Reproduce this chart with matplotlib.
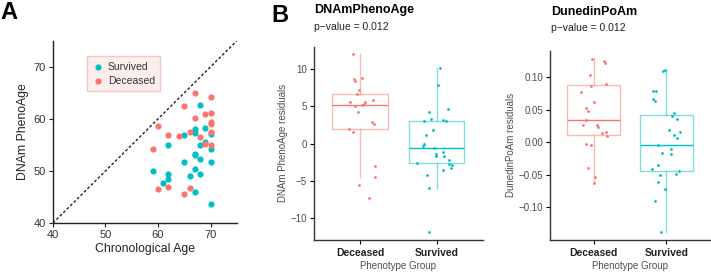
import matplotlib.pyplot as plt

plt.rcParams['font.family'] = ['Liberation Sans', 'DejaVu Sans']

RED = '#F8766D'
TEAL = '#00BFC4'

# Panel A: chronological age vs DNAm PhenoAge
surv_age = [59, 61, 62, 62, 62, 65, 65, 67, 67, 67, 67, 67, 67, 66, 68, 68, 68, 68, 69, 69, 70, 70, 70, 70]
surv_pheno = [49.9, 47.6, 49.5, 48.5, 55.0, 56.9, 51.7, 58.1, 57.3, 53.3, 53.0, 50.3, 45.9, 49.0,
              62.6, 55.0, 52.3, 49.5, 58.3, 55.5, 57.1, 54.3, 51.8, 43.7]
dec_age = [59, 60, 60, 62, 62, 64, 65, 65, 66, 66, 67, 67, 68, 69, 69, 70, 70, 70, 70, 70, 70]
dec_pheno = [54.3, 58.7, 46.5, 57.0, 47.0, 56.8, 62.4, 45.6, 57.5, 46.8, 65.0, 60.2, 56.5, 60.9,
             55.2, 64.3, 61.2, 59.5, 59.1, 57.4, 55.0]

groups = ['Deceased', 'Survived']

# Panel B1: DNAmPhenoAge residuals (box stats: whislo, q1, med, q3, whishi)
pheno_stats = [(-4.4, 2.0, 5.18, 6.65, 12.05), (-5.94, -2.59, -0.58, 3.08, 10.2)]
pheno_dec = [12.05, 8.7, 8.35, 8.75, 7.2, 6.65, 5.6, 5.6, 5.35, 5.2, 5.0, 5.9, 4.3, 2.9, 2.7,
             2.0, 1.56, -3.0, -4.46, -5.55, -7.3]
pheno_dec_jit = [-0.09, -0.08, -0.07, 0.03, -0.01, -0.04, -0.13, 0.07, 0.05, 0.03, -0.06, 0.17,
                 -0.03, 0.16, 0.18, -0.15, -0.09, 0.19, 0.19, -0.01, 0.12]
pheno_surv = [10.2, 7.8, 4.3, 4.65, 3.3, 3.08, 3.2, 3.08, 1.8, 1.2, 0.0, -0.27, -0.54, -1.38, -1.1,
              -1.7, -1.7, -2.2, -2.6, -2.7, -2.8, -3.26, -3.57, -4.24, -6.0, -11.8]
pheno_surv_jit = [0.04, 0.02, -0.10, 0.15, -0.08, -0.17, 0.08, 0.12, -0.05, -0.14, -0.17, -0.18,
                  -0.03, -0.01, 0.08, -0.01, 0.09, 0.16, -0.26, 0.16, 0.20, 0.19, 0.08, -0.13,
                  -0.10, -0.10]

# Panel B2: DunedinPoAm residuals
poam_stats = [(-0.063, 0.0102, 0.0332, 0.0883, 0.1286), (-0.1378, -0.0449, -0.0046, 0.0418, 0.1107)]
poam_dec = [0.1276, 0.1245, 0.121, 0.1036, 0.0898, 0.0867, 0.077, 0.0612, 0.053, 0.048, 0.0337,
            0.0255, 0.026, 0.0235, 0.0158, 0.0138, 0.0087, -0.003, -0.0046, -0.0398, -0.0536, -0.062]
poam_dec_jit = [-0.02, 0.14, 0.15, -0.05, 0.17, -0.04, -0.17, 0.01, -0.10, -0.08, -0.11, -0.15,
                0.04, 0.06, 0.17, 0.11, 0.18, -0.10, -0.03, -0.08, 0.02, 0.01]
poam_surv = [0.1107, 0.109, 0.079, 0.079, 0.0668, 0.0628, 0.044, 0.040, 0.035, 0.0179, 0.0158,
             0.0117, 0.0056, -0.004, -0.0107, -0.0173, -0.0184, -0.0347, -0.0413, -0.0449,
             -0.0495, -0.051, -0.0612, -0.0714, -0.0908, -0.1372]
poam_surv_jit = [-0.02, -0.04, -0.19, -0.14, -0.19, -0.15, 0.10, 0.08, 0.15, 0.03, 0.19, 0.11,
                 0.15, -0.12, 0.07, -0.06, 0.07, -0.11, -0.20, 0.17, 0.13, -0.09, -0.12, -0.02,
                 -0.15, -0.07]

fig = plt.figure(figsize=(7.11, 2.76), dpi=100)

# ---- Panel A
ax = fig.add_axes([0.0745, 0.192, 0.2585, 0.66])
ax.plot([40, 75], [40, 75], ls=(0, (2, 1.5)), color='#222222', lw=1.0)
ax.scatter(surv_age, surv_pheno, s=20, color=TEAL, label='Survived', zorder=3, linewidths=0)
ax.scatter(dec_age, dec_pheno, s=20, color=RED, label='Deceased', zorder=3, linewidths=0)
ax.set_xlim(40, 75)
ax.set_ylim(40, 75)
ax.set_xticks([40, 50, 60, 70])
ax.set_yticks([40, 50, 60, 70])
for s in ['top', 'right']:
    ax.spines[s].set_visible(False)
for s in ['left', 'bottom']:
    ax.spines[s].set_linewidth(1.0)
    ax.spines[s].set_color('#222222')
ax.tick_params(labelsize=8, length=3, width=0.8, color='#222222', labelcolor='#333333', pad=2)
ax.set_xlabel('Chronological Age', fontsize=8.8, labelpad=2, color='#222222')
ax.set_ylabel('DNAm PhenoAge', fontsize=8.8, labelpad=3, color='#222222')
leg = ax.legend(loc='upper left', bbox_to_anchor=(0.185, 0.915), fontsize=7.5, frameon=True,
                handletextpad=0.3, borderpad=0.5, labelspacing=0.45, handlelength=1.2,
                markerscale=1.0, fancybox=False, borderaxespad=0)
leg.get_frame().set_facecolor('#fdeeee')
leg.get_frame().set_edgecolor('#f5c6c6')
leg.get_frame().set_alpha(1)
for t in leg.get_texts():
    t.set_color('#333333')
fig.text(0.0, 0.995, 'A', fontsize=17, fontweight='bold', va='top', ha='left')
fig.text(0.381, 0.985, 'B', fontsize=17, fontweight='bold', va='top', ha='left')


def box_panel(rect, stats, dec, dec_jit, surv, surv_jit, ylim, yticks, yticklabels, ylabel):
    ax = fig.add_axes(rect)
    data = [(dec, dec_jit), (surv, surv_jit)]
    colors = [RED, TEAL]
    for i, (st, col) in enumerate(zip(stats, colors)):
        bst = [dict(whislo=st[0], q1=st[1], med=st[2], q3=st[3], whishi=st[4], fliers=[])]
        ax.bxp(bst, positions=[i + 1], widths=0.72, showfliers=False, patch_artist=True,
               boxprops=dict(facecolor='white', edgecolor=col, alpha=0.5, lw=1.0),
               whiskerprops=dict(color=col, alpha=0.5, lw=1.0),
               capprops=dict(visible=False),
               medianprops=dict(color=col, lw=1.0))
        vals, jit = data[i]
        ax.scatter([i + 1 + j for j in jit], vals, s=4, color=col, zorder=3, linewidths=0)
    ax.set_xlim(0.4, 2.6)
    ax.set_ylim(*ylim)
    ax.set_xticks([1, 2])
    ax.set_xticklabels(groups, fontweight='bold', fontsize=7.5, color='#222222')
    ax.set_yticks(yticks)
    ax.set_yticklabels(yticklabels)
    for s in ['top', 'right']:
        ax.spines[s].set_visible(False)
    for s in ['left', 'bottom']:
        ax.spines[s].set_linewidth(1.0)
        ax.spines[s].set_color('#333333')
    ax.tick_params(axis='y', labelsize=7, labelcolor='#4d4d4d', length=3, width=0.8, pad=2)
    ax.tick_params(axis='x', length=3, width=0.8, pad=3)
    ax.set_xlabel('Phenotype Group', fontsize=7, color='#4d4d4d', labelpad=2)
    ax.set_ylabel(ylabel, fontsize=7, color='#4d4d4d', labelpad=2)
    return ax


ax1 = box_panel([0.4416, 0.1304, 0.2374, 0.7006], pheno_stats, pheno_dec, pheno_dec_jit,
                pheno_surv, pheno_surv_jit, (-12.9, 13.0), [-10, -5, 0, 5, 10],
                ['\u221210', '\u22125', '0', '5', '10'], 'DNAm PhenoAge residuals')
fig.text(0.4416, 0.962, 'DNAmPhenoAge', fontsize=9, fontweight='bold', va='center', ha='left')
fig.text(0.4416, 0.902, 'p\u2212value = 0.012', fontsize=7.5, va='center', ha='left', color='#222222')

ax2 = box_panel([0.7736, 0.1304, 0.225, 0.6856], poam_stats, poam_dec, poam_dec_jit,
                poam_surv, poam_surv_jit, (-0.15, 0.14), [-0.10, -0.05, 0.0, 0.05, 0.10],
                ['\u22120.10', '\u22120.05', '0.00', '0.05', '0.10'], 'DunedinPoAm residuals')
fig.text(0.775, 0.958, 'DunedinPoAm', fontsize=9, fontweight='bold', va='center', ha='left')
fig.text(0.775, 0.898, 'p\u2212value = 0.012', fontsize=7.5, va='center', ha='left', color='#222222')

fig.savefig('out.png', dpi=100)
